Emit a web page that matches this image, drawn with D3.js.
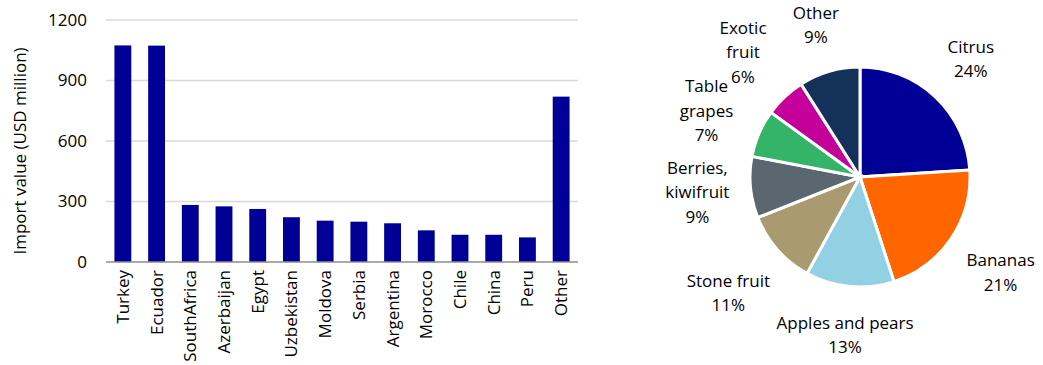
<!DOCTYPE html>
<html>
<head>
<meta charset="utf-8">
<script src="https://cdn.jsdelivr.net/npm/d3@7/dist/d3.min.js"></script>
<style>
  html, body { margin: 0; padding: 0; background: #fff; }
  svg { display: block; font-family: "Open Sans", sans-serif; }
  text { fill: #000; }
</style>
</head>
<body>
<svg id="chart" width="1043" height="365"></svg>
<script>
// Import value by supplier country (USD million)
const countries = ["Turkey", "Ecuador", "SouthAfrica", "Azerbaijan", "Egypt", "Uzbekistan",
  "Moldova", "Serbia", "Argentina", "Morocco", "Chile", "China", "Peru", "Other"];
const importValues = [1074, 1073, 283, 276, 263, 222, 205, 200, 192, 157, 135, 135, 122, 820];
const yTicks = [0, 300, 600, 900, 1200];

// Share of imports by fruit group (%)
const fruitGroups = ["Citrus", "Bananas", "Apples and pears", "Stone fruit",
  "Berries, kiwifruit", "Table grapes", "Exotic fruit", "Other"];
const fruitShares = [24, 21, 13, 11, 9, 7, 6, 9];
const fruitLabelLines = [["Citrus"], ["Bananas"], ["Apples and pears"], ["Stone fruit"],
  ["Berries,", "kiwifruit"], ["Table", "grapes"], ["Exotic", "fruit"], ["Other"]];
const fruitColors = ["#000096", "#FF6600", "#92D0E3", "#A99B6F", "#5A6670", "#34B468", "#C5009A", "#14315A"];

const svg = d3.select("#chart");
const fontSize = 17;

// ---- Bar chart ----
const bx0 = 106, bx1 = 578, by0 = 262, by1 = 20;
const x = d3.scaleBand().domain(countries).range([bx0, bx1]).paddingInner(0.5).paddingOuter(0.25);
const y = d3.scaleLinear().domain([0, 1200]).range([by0, by1]);

const bar = svg.append("g");

bar.append("g").selectAll("line").data(yTicks.filter(t => t > 0)).join("line")
  .attr("x1", bx0).attr("x2", bx1)
  .attr("y1", d => y(d)).attr("y2", d => y(d))
  .attr("stroke", "#d9d9d9").attr("stroke-width", 1.3);

bar.append("g").selectAll("rect").data(countries).join("rect")
  .attr("x", d => x(d))
  .attr("width", x.bandwidth())
  .attr("y", (d, i) => y(importValues[i]))
  .attr("height", (d, i) => y(0) - y(importValues[i]))
  .attr("fill", "#000096");

bar.append("line")
  .attr("x1", bx0).attr("x2", bx1).attr("y1", y(0)).attr("y2", y(0))
  .attr("stroke", "#8c8c8c").attr("stroke-width", 1.3);

bar.append("g").selectAll("text").data(yTicks).join("text")
  .attr("x", 87).attr("y", d => y(d)).attr("dy", "0.35em")
  .attr("text-anchor", "end").attr("font-size", fontSize)
  .text(d => d);

bar.append("g").selectAll("text").data(countries).join("text")
  .attr("transform", d => `translate(${x(d) + x.bandwidth() / 2},${y(0) + 8}) rotate(-90)`)
  .attr("dy", "0.35em")
  .attr("text-anchor", "end").attr("font-size", fontSize)
  .text(d => d);

bar.append("text")
  .attr("transform", `translate(20,${(by0 + by1) / 2 + 10}) rotate(-90)`)
  .attr("dy", "0.35em")
  .attr("text-anchor", "middle").attr("font-size", fontSize)
  .text("Import value (USD million)");

// ---- Pie chart ----
const cx = 860, cy = 177, r = 110;
const pie = d3.pie().sort(null).value(d => d);
const arcs = pie(fruitShares);
const arc = d3.arc().innerRadius(0).outerRadius(r);

const pg = svg.append("g").attr("transform", `translate(${cx},${cy})`);
pg.selectAll("path").data(arcs).join("path")
  .attr("d", arc)
  .attr("fill", (d, i) => fruitColors[i])
  .attr("stroke", "#fff").attr("stroke-width", 3).attr("stroke-linejoin", "miter");

const lineH = 24.5;
const labels = pg.selectAll("g.lbl").data(arcs).join("g").attr("class", "lbl");
labels.each(function (d, i) {
  const g = d3.select(this);
  const lines = fruitLabelLines[i].concat([fruitShares[i] + "%"]);
  const t = g.append("text").attr("text-anchor", "middle").attr("font-size", fontSize);
  lines.forEach((s, k) => {
    t.append("tspan").attr("x", 0).attr("y", (k - (lines.length - 1) / 2) * lineH)
      .attr("dy", "0.35em").text(s);
  });
  const bb = t.node().getBBox();
  const a = (d.startAngle + d.endAngle) / 2;
  const dx = Math.sin(a), dy = -Math.cos(a);
  const ext = Math.abs(dx) * bb.width / 2 + Math.abs(dy) * lines.length * lineH / 2;
  const dist = r + 18 + ext;
  g.attr("transform", `translate(${dx * dist},${dy * dist})`);
});
</script>
</body>
</html>
